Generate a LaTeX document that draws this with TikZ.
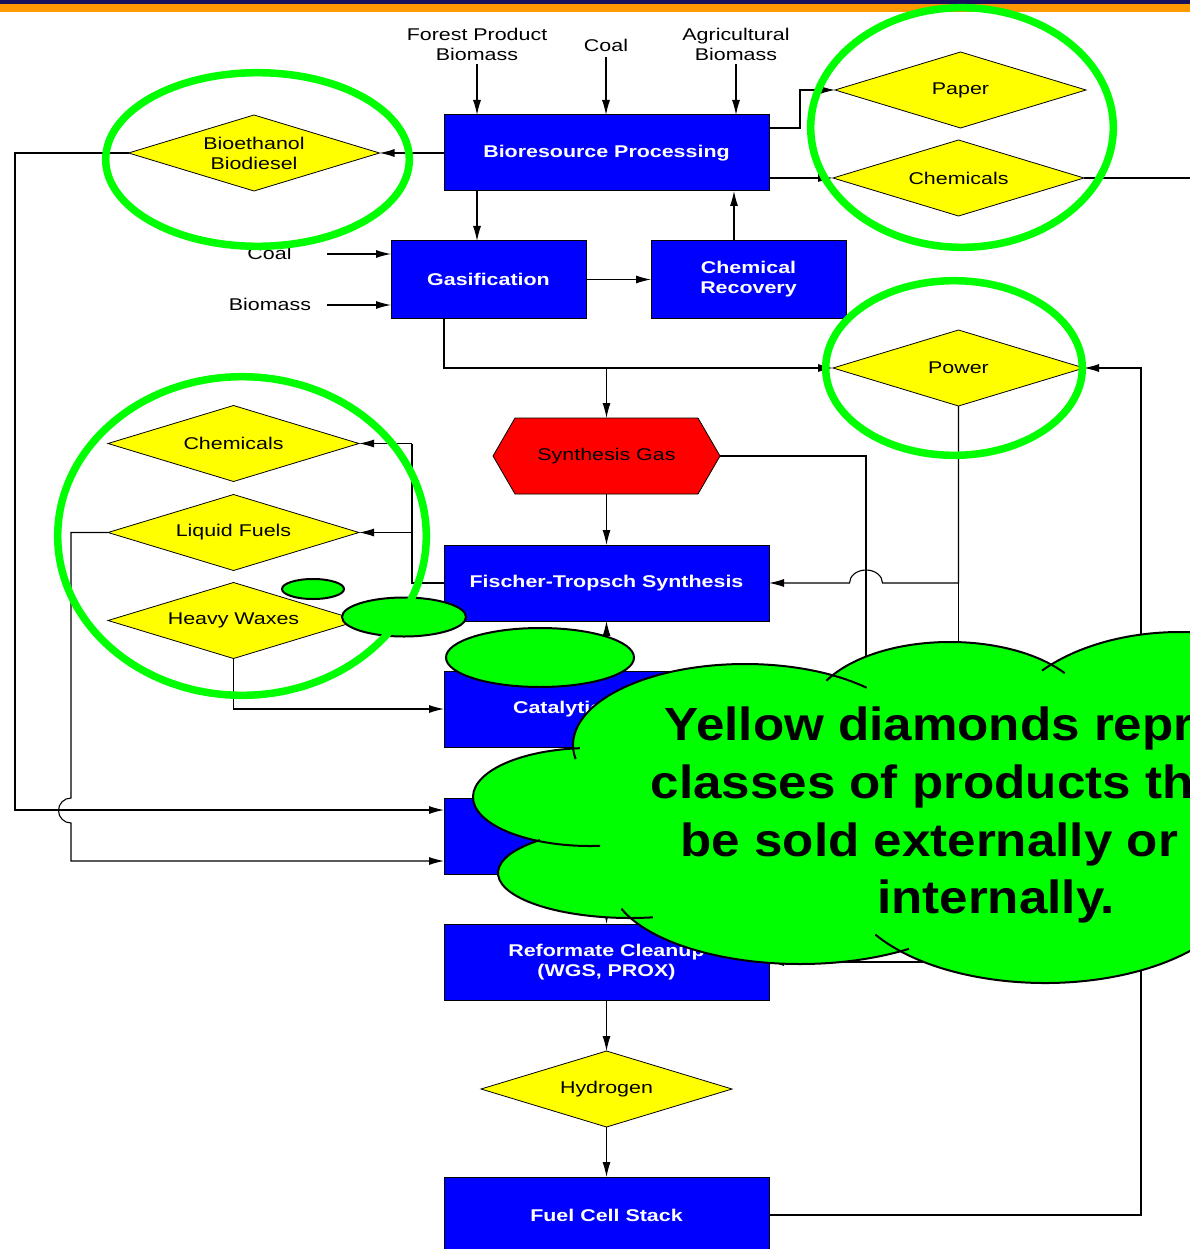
\documentclass[tikz,border=0pt]{standalone}
\usepackage{fontspec}
\setmainfont{Liberation Sans}[FakeStretch=1.26]
\newfontfamily\calloutfont{Liberation Sans}[FakeStretch=1.1]
\usetikzlibrary{arrows.meta,shapes.geometric,calc}
\definecolor{procblue}{RGB}{0,0,255}
\definecolor{prodyellow}{RGB}{255,255,0}
\definecolor{hilite}{RGB}{0,255,0}
\definecolor{barnavy}{RGB}{22,18,92}
\definecolor{barorange}{RGB}{255,153,0}

\begin{document}
\begin{tikzpicture}[x=1pt,y=-1pt,
  every node/.style={inner sep=0pt, outer sep=0pt},
  txt/.style={font=\fontsize{17}{20}\selectfont, align=center},
  proc/.style={rectangle, draw=black, line width=1pt, fill=procblue, text=white,
    font=\bfseries\fontsize{17}{20}\selectfont, align=center,
    minimum width=325pt, minimum height=76pt},
  prod/.style={diamond, aspect=3.3, draw=black, line width=0.8pt, fill=prodyellow,
    font=\fontsize{17}{20}\selectfont, align=center,
    minimum width=251pt, minimum height=76pt},
  flow/.style={line width=1.1pt, -{Latex[length=15pt,width=8pt]}},
  wire/.style={line width=1.1pt},
  ring/.style={draw=hilite, line width=7.5pt},
  bubble/.style={fill=hilite, draw=black, line width=2pt},
  cloudedge/.style={draw=black, line width=2pt},
  callout/.style={font=\calloutfont\bfseries\fontsize{46.5}{58}\selectfont, anchor=base},
]
\useasboundingbox (0,0) rectangle (1190,1249);
\clip (0,0) rectangle (1190,1249);
\fill[white] (0,0) rectangle (1190,1249);

% header band
\fill[barnavy] (0,0) rectangle (1190,4.5);
\fill[barorange] (0,4.5) rectangle (1190,12);

% feed labels
\node[txt] (fp) at (477,44) {Forest Product\\Biomass};
\node[txt] (coalT) at (606,45) {Coal};
\node[txt] (ag) at (736,44) {Agricultural\\Biomass};
\node[txt] (coalL) at (269.5,253.5) {Coal};
\node[txt] (bmL) at (270,304) {Biomass};
\coordinate (coalIn) at (327,254);
\coordinate (bmIn) at (327,305);

% process steps
\node[proc] (bio) at (606.5,153) {Bioresource Processing};
\node[proc, minimum width=195pt, minimum height=77pt] (gas) at (488.5,279.5) {Gasification};
\node[proc, minimum width=195pt, minimum height=77pt] (chrec) at (748.5,279.5) {Chemical\\Recovery};
\node[proc] (ft) at (606.5,583) {Fischer-Tropsch Synthesis};
\node[proc] (cat) at (606.5,709) {Catalytic Cracking};
\node[proc] (steam) at (606.5,836) {};
\node[proc] (refc) at (606.5,962) {Reformate Cleanup\\(WGS, PROX)};
\node[proc] (fcs) at (606.5,1215) {Fuel Cell Stack};

% synthesis gas hexagon
\filldraw[fill=red, draw=black, line width=0.8pt]
  (493,456) -- (515,418) -- (698,418) -- (720,456) -- (698,494) -- (515,494) -- cycle;
\node[txt, minimum width=227pt, minimum height=76pt] (syn) at (606.5,456) {Synthesis Gas};

% products
\node[prod] (bioeth) at (254,153) {Bioethanol\\Biodiesel};
\node[prod] (paper) at (960.5,90) {Paper};
\node[prod] (chemR) at (958.5,178) {Chemicals};
\node[prod] (pow) at (958.5,368) {Power};
\node[prod] (chemL) at (233.5,443.5) {Chemicals};
\node[prod] (lf) at (233.5,532.5) {Liquid Fuels};
\node[prod] (hw) at (233.5,620.5) {Heavy Waxes};
\node[prod] (h2) at (606.5,1089) {Hydrogen};

% helper points on box edges
\coordinate (gasIn) at ([xshift=-11.5pt]gas.north);
\coordinate (recOut) at ([xshift=-14.5pt]chrec.north);
\coordinate (gasOut) at ([xshift=-44.5pt]gas.south);

% connectors
\draw[flow] ([yshift=-4pt]fp.south) -- (fp.south |- bio.north);
\draw[flow] ([yshift=-6pt]coalT.south) -- (coalT.south |- bio.north);
\draw[flow] ([yshift=-4pt]ag.south) -- (ag.south |- bio.north);
\draw[flow] (bio.west) -- (bioeth.east);
\draw[flow] (bioeth.west) -| (15,810) -- ([yshift=26pt]steam.west);
\draw[flow] ([yshift=25pt]bio.east) -- (800,128) |- (paper.west);
\draw[flow] ([yshift=-25pt]bio.east) -- (chemR.west);
\draw[wire] (chemR.east) -- (1195,178);
\draw[flow] (gasIn |- bio.south) -- (gasIn);
\draw[flow] (recOut) -- (recOut |- bio.south);
\draw[flow] (coalIn) -- (coalIn -| gas.west);
\draw[flow] (bmIn) -- (bmIn -| gas.west);
\draw[flow] (gas.east) -- (chrec.west);
\draw[flow] (gasOut) |- (pow.west);
\draw[flow] (syn.north |- pow.west) -- (syn.north);
\draw[flow] (syn.south) -- (ft.north);
\draw[flow] (cat.north) -- (ft.south);
\draw[flow] (steam.south) -- (refc.north);
\draw[flow] (refc.south) -- (h2.north);
\draw[flow] (h2.south) -- (fcs.north);
\draw[flow] (syn.east) -- (866,456) -- (866,836) -- (steam.east);
\draw[flow] (pow.south) -- (958.5,583) -- (882.5,583)
  arc[start angle=0, end angle=180, x radius=16.5pt, y radius=13pt] -- (ft.east);
\draw[flow] (pow.south) |- (refc.east);
\draw[flow] (fcs.east) -| (1141,368) -- (pow.east);
\draw[wire] (ft.west) -| (412,443.5);
\draw[flow] (412,443.5) -- (chemL.east);
\draw[flow] (412,532.5) -- (lf.east);
\draw[flow] (hw.south) |- (cat.west);
\draw[flow] (lf.west) -- (71,532.5) -- (71,798)
  arc[start angle=90, end angle=270, radius=12.5pt] -- (71,861) -- ([yshift=-25pt]steam.west);

% thought bubbles leading to the callout
\filldraw[bubble] (313,589) ellipse [x radius=31pt, y radius=10pt];
\filldraw[bubble] (404,617) ellipse [x radius=62pt, y radius=19.5pt];
\filldraw[bubble] (540,657.5) ellipse [x radius=94pt, y radius=29.5pt];

% callout cloud: body
\fill[hilite] (745,745) ellipse [x radius=172pt, y radius=81pt];
\fill[hilite] (590,797) ellipse [x radius=117pt, y radius=49pt];
\fill[hilite] (630,873) ellipse [x radius=132pt, y radius=45pt];
\fill[hilite] (800,880) ellipse [x radius=190pt, y radius=84pt];
\fill[hilite] (1045,880) ellipse [x radius=200pt, y radius=103pt];
\fill[hilite] (950,715) ellipse [x radius=140pt, y radius=73pt];
\fill[hilite] (1180,740) ellipse [x radius=180pt, y radius=108pt];
\fill[hilite] (850,820) ellipse [x radius=250pt, y radius=120pt];
% callout cloud: bump outlines
\draw[cloudedge] ($(745,745)+(45:172pt and 81pt)$) arc[start angle=45, end angle=190, x radius=172pt, y radius=81pt];
\draw[cloudedge] ($(590,797)+(95:117pt and 49pt)$) arc[start angle=95, end angle=275, x radius=117pt, y radius=49pt];
\draw[cloudedge] ($(630,873)+(133:132pt and 45pt)$) arc[start angle=133, end angle=280, x radius=132pt, y radius=45pt];
\draw[cloudedge] ($(800,880)+(200:190pt and 84pt)$) arc[start angle=200, end angle=305, x radius=190pt, y radius=84pt];
\draw[cloudedge] ($(1045,880)+(212:200pt and 103pt)$) arc[start angle=212, end angle=340, x radius=200pt, y radius=103pt];
\draw[cloudedge] ($(950,715)+(35:140pt and 73pt)$) arc[start angle=35, end angle=152, x radius=140pt, y radius=73pt];
\draw[cloudedge] ($(1180,740)+(40:180pt and 108pt)$) arc[start angle=40, end angle=140, x radius=180pt, y radius=108pt];

% callout text
\node[callout] (cl1) at (996,740) {Yellow diamonds represent};
\node[callout] (cl2) at (996,798) {classes of products that can};
\node[callout] (cl3) at (996,856) {be sold externally or used};
\node[callout] (cl4) at (996,913) {internally.};

% highlight rings
\draw[ring] (257.5,159.5) ellipse [x radius=151.8pt, y radius=86.8pt];
\draw[ring] (962,127.5) ellipse [x radius=151.3pt, y radius=119.8pt];
\draw[ring] (954,368) ellipse [x radius=128.3pt, y radius=87.3pt];
\draw[ring] (242,536) ellipse [x radius=184.3pt, y radius=159.3pt];
\end{tikzpicture}
\end{document}
